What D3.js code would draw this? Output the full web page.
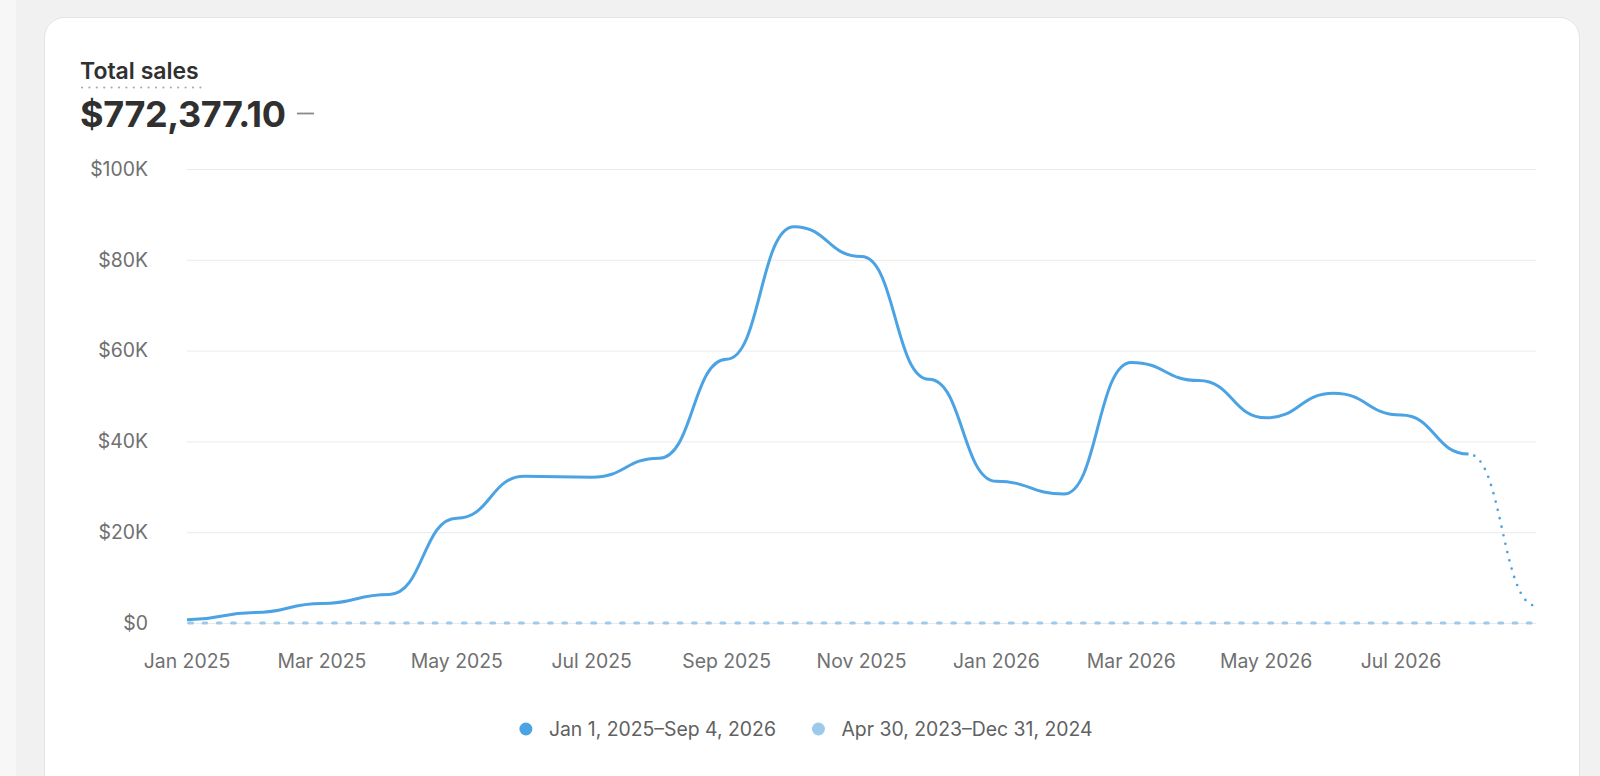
<!DOCTYPE html>
<html lang="en">
<head>
  <meta charset="utf-8">
  <title>Total sales</title>
  <script src="https://d3js.org/d3.v7.min.js"></script>
  <style>
    body { margin: 0; background: #f1f1f1; }
    svg { display: block; font-family: Inter, "Noto Sans", sans-serif; }
  </style>
</head>
<body>
	<script type="text/javascript">

		// Monthly totals
		var months = ["Jan 2025", "Feb 2025", "Mar 2025", "Apr 2025", "May 2025", "Jun 2025",
		              "Jul 2025", "Aug 2025", "Sep 2025", "Oct 2025", "Nov 2025", "Dec 2025",
		              "Jan 2026", "Feb 2026", "Mar 2026", "Apr 2026", "May 2026", "Jun 2026",
		              "Jul 2026", "Aug 2026", "Sep 2026"];
		var currentSales = [700, 2300, 4300, 6300, 23100, 32300,
		                    32100, 36300, 58100, 87300, 80700, 53700,
		                    31200, 28400, 57400, 53400, 45200, 50600,
		                    45800, 37200, 3800];
		var previousSales = [0, 0, 0, 0, 0, 0, 0, 0, 0, 0, 0, 0, 0, 0, 0, 0, 0, 0, 0, 0, 0];
		var yTicks = [0, 20000, 40000, 60000, 80000, 100000];
		var xTickLabels = ["Jan 2025", "Mar 2025", "May 2025", "Jul 2025", "Sep 2025", "Nov 2025",
		                   "Jan 2026", "Mar 2026", "May 2026", "Jul 2026"];
		var seriesNames = ["Jan 1, 2025\u2013Sep 4, 2026", "Apr 30, 2023\u2013Dec 31, 2024"];
		var totalLabel = "$772,377.10";

		var svg_width = 1600;
		var svg_height = 776;
		var plot = { left: 187, right: 1536, top: 169, bottom: 623 };
		var lineColor = "#4ba3e4";
		var prevColor = "#9dcaea";
		var labelSize = "19.4px";

		var svg = d3.select("body")
					.append("svg")
					.attr("width", svg_width)
					.attr("height", svg_height);

		// page background + card
		svg.append("rect").attr("x", 0).attr("y", 0).attr("width", 16).attr("height", svg_height).attr("fill", "#f7f7f7");
		svg.append("rect")
		   .attr("x", 44.5).attr("y", 17.5)
		   .attr("width", 1535).attr("height", 820)
		   .attr("rx", 20)
		   .attr("fill", "#ffffff")
		   .attr("stroke", "#e4e4e4");

		// Header
		var title = svg.append("text")
		   .attr("x", 80).attr("y", 79)
		   .attr("font-size", "23px").attr("font-weight", 600)
		   .attr("fill", "#303030")
		   .text("Total sales");
		var titleW = title.node().getComputedTextLength();
		svg.append("line")
		   .attr("x1", 82).attr("x2", 84 + titleW).attr("y1", 87.5).attr("y2", 87.5)
		   .attr("stroke", "#aaaaaa").attr("stroke-width", 2.2)
		   .attr("stroke-dasharray", "0 7.4").attr("stroke-linecap", "round");
		svg.append("text")
		   .attr("x", 80).attr("y", 127)
		   .attr("font-size", "36px").attr("font-weight", 700)
		   .attr("letter-spacing", "-0.4px")
		   .attr("fill", "#303030")
		   .text(totalLabel);
		svg.append("line")
		   .attr("x1", 297).attr("x2", 314).attr("y1", 113.5).attr("y2", 113.5)
		   .attr("stroke", "#8a8a8a").attr("stroke-width", 1.8);

		// Scales
		var xScale = d3.scalePoint()
					   .domain(months)
					   .range([plot.left, plot.right]);
		var yScale = d3.scaleLinear()
					   .domain([0, 100000])
					   .range([plot.bottom, plot.top]);

		// Gridlines + y labels
		svg.selectAll(".grid")
		   .data(yTicks)
		   .enter()
			   .append("line")
			   .attr("class", "grid")
			   .attr("x1", plot.left).attr("x2", plot.right)
			   .attr("y1", function(d) { return yScale(d) + 0.5; })
			   .attr("y2", function(d) { return yScale(d) + 0.5; })
			   .attr("stroke", "#ebebeb");

		svg.selectAll(".ylabel")
		   .data(yTicks)
		   .enter()
			   .append("text")
			   .attr("class", "ylabel")
			   .attr("x", 148)
			   .attr("y", function(d) { return yScale(d); })
			   .attr("dy", "0.35em")
			   .attr("text-anchor", "end")
			   .attr("font-size", labelSize)
			   .attr("fill", "#707070")
			   .text(function(d) { return d === 0 ? "$0" : "$" + (d / 1000) + "K"; });

		// X labels
		svg.selectAll(".xlabel")
		   .data(xTickLabels)
		   .enter()
			   .append("text")
			   .attr("class", "xlabel")
			   .attr("x", function(d) { return xScale(d); })
			   .attr("y", 668)
			   .attr("text-anchor", "middle")
			   .attr("font-size", labelSize)
			   .attr("fill", "#707070")
			   .text(function(d) { return d; });

		var line = d3.line()
					 .x(function(d) { return xScale(d.m); })
					 .y(function(d) { return yScale(d.v); })
					 .curve(d3.curveBumpX);

		// previous period (all zero), dashed
		var prevData = months.map(function(m, i) { return { m: m, v: previousSales[i] }; });
		svg.append("path")
		   .datum(prevData)
		   .attr("d", line)
		   .attr("fill", "none")
		   .attr("stroke", prevColor)
		   .attr("stroke-width", 3)
		   .attr("stroke-dasharray", "3.7 10.7")
		   .attr("stroke-dashoffset", -1.5)
		   .attr("stroke-linecap", "round");

		// current period: solid up to last full month, dotted into the partial month
		var curData = months.map(function(m, i) { return { m: m, v: currentSales[i] }; });
		var n = curData.length;
		svg.append("path")
		   .datum(curData.slice(0, n - 1))
		   .attr("d", line)
		   .attr("fill", "none")
		   .attr("stroke", lineColor)
		   .attr("stroke-width", 3)
		   .attr("stroke-linejoin", "round");
		svg.append("path")
		   .datum(curData.slice(n - 2))
		   .attr("d", line)
		   .attr("fill", "none")
		   .attr("stroke", lineColor)
		   .attr("stroke-width", 2.7)
		   .attr("stroke-dasharray", "0 8.6")
		   .attr("stroke-dashoffset", -6)
		   .attr("stroke-linecap", "round");

		// Legend, centred under the card
		var legendColors = [lineColor, prevColor];
		var legend = svg.append("g").attr("transform", "translate(0,729)");
		var items = legend.selectAll(".legend")
						  .data(seriesNames)
						  .enter()
							  .append("g")
							  .attr("class", "legend");
		items.append("circle")
			 .attr("r", 6.5)
			 .attr("fill", function(d, i) { return legendColors[i]; });
		items.append("text")
			 .attr("x", 23)
			 .attr("dy", "0.35em")
			 .attr("font-size", labelSize)
			 .attr("fill", "#616161")
			 .text(function(d) { return d; });
		var cursor = 0;
		items.each(function() {
			var g = d3.select(this);
			g.attr("transform", "translate(" + cursor + ",0)");
			cursor += 23 + g.select("text").node().getComputedTextLength() + 42.5;
		});
		var legendW = cursor - 42.5 + 6.5;
		legend.attr("transform", "translate(" + (806 - legendW / 2 + 6.5) + ",729)");

	</script>
</body>
</html>
